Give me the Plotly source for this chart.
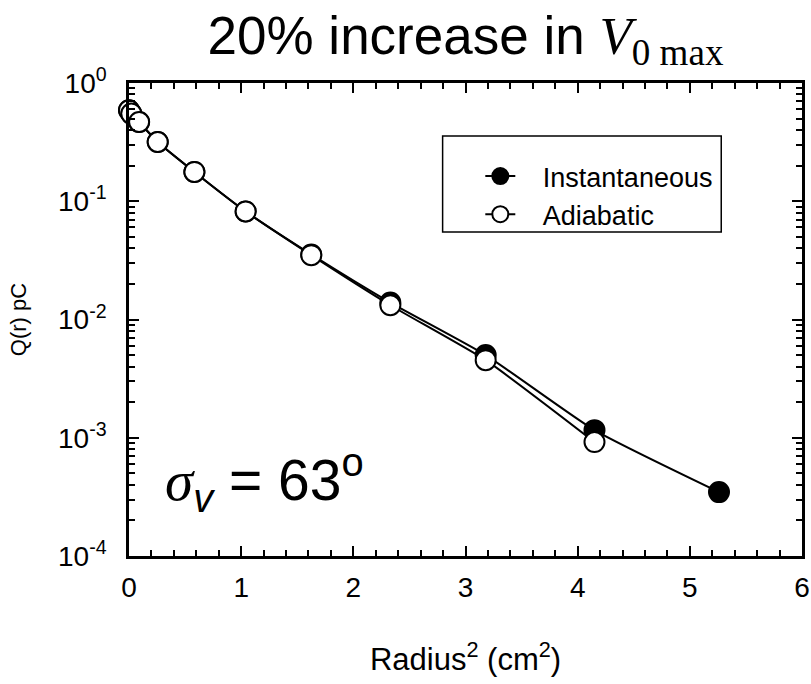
import plotly.graph_objects as go

# Data (x = radius^2 in cm^2, y = Q(r) in pC)
x_inst = [0.0, 0.02, 0.09, 0.256, 0.583, 1.04, 1.625, 2.33, 3.18, 4.15, 5.26]
y_inst = [0.588, 0.551, 0.468, 0.317, 0.177, 0.082, 0.0355, 0.0139, 0.0050, 0.00116, 0.000347]

x_adia = [0.0, 0.02, 0.09, 0.256, 0.583, 1.04, 1.625, 2.33, 3.18, 4.15]
y_adia = [0.588, 0.551, 0.468, 0.317, 0.177, 0.082, 0.035, 0.0132, 0.00453, 0.00092]

x_ticks = [0, 1, 2, 3, 4, 5, 6]
y_tickvals = [1e-4, 1e-3, 1e-2, 1e-1, 1e0]
y_ticktext = ["10<sup>-4</sup>", "10<sup>-3</sup>", "10<sup>-2</sup>", "10<sup>-1</sup>", "10<sup>0</sup>"]
y_minor = [m * 10 ** e for e in range(-4, 0) for m in range(2, 10)]

FONT = "Liberation Sans, Arial, sans-serif"
NB = "\u00a0"

fig = go.Figure()
fig.add_trace(go.Scatter(
    x=x_inst, y=y_inst, name=NB * 3 + "Instantaneous", mode="lines+markers",
    line=dict(color="black", width=2, shape="spline", smoothing=0.5),
    marker=dict(symbol="circle", size=20, color="black", line=dict(color="black", width=2)),
    cliponaxis=False,
))
fig.add_trace(go.Scatter(
    x=x_adia, y=y_adia, name=NB * 3 + "Adiabatic", mode="lines+markers",
    line=dict(color="black", width=2, shape="spline", smoothing=0.5),
    marker=dict(symbol="circle", size=20, color="white", line=dict(color="black", width=2)),
    cliponaxis=False,
))

fig.update_layout(
    width=811, height=684,
    margin=dict(l=129, r=9, t=83, b=128),
    paper_bgcolor="white", plot_bgcolor="white",
    font=dict(family=FONT, color="black"),
    title=dict(
        text='20% increase in <span style="font-family:Liberation Serif"><i>V</i><sub>0 max</sub></span>',
        x=0.5, xref="paper", xanchor="center",
        y=0.948, yref="container", yanchor="middle",
        font=dict(size=53, family=FONT, color="black"),
    ),
    showlegend=True,
    legend=dict(
        x=0.522, y=0.854, xanchor="left", yanchor="top",
        borderwidth=0, bgcolor="rgba(0,0,0,0)",
        font=dict(size=27, family=FONT),
        tracegroupgap=0,
    ),
    shapes=[dict(
        type="rect", xref="paper", yref="paper",
        x0=0.466, x1=0.880, y0=0.685, y1=0.888,
        line=dict(color="black", width=1.5), fillcolor="rgba(0,0,0,0)",
    )],
    annotations=[dict(
        text='<span style="font-family:Liberation Serif"><i>σ</i></span><sub><i>v</i></sub> = 63<sup>o</sup>',
        xref="paper", yref="paper", x=0.05, y=0.16,
        xanchor="left", yanchor="middle", showarrow=False,
        font=dict(size=57, family=FONT, color="black"),
    )],
)

fig.update_xaxes(
    range=[0, 6], tickvals=x_ticks, ticks="inside", ticklen=10, tickwidth=2,
    showline=True, linecolor="black", linewidth=2.5, mirror="allticks",
    showgrid=False, zeroline=False, automargin=False,
    tickfont=dict(size=28, family=FONT), ticklabelstandoff=5,
    minor=dict(ticks="inside", ticklen=6, tickwidth=1.5, dtick=0.2, showgrid=False, tickcolor="black"),
    tickcolor="black",
    title=dict(text="Radius<sup>2</sup> (cm<sup>2</sup>)", font=dict(size=31, family=FONT), standoff=46),
)
fig.update_yaxes(
    type="log", range=[-4, 0], tickvals=y_tickvals, ticktext=y_ticktext,
    ticks="inside", ticklen=10, tickwidth=2, tickcolor="black",
    showline=True, linecolor="black", linewidth=2.5, mirror="allticks",
    showgrid=False, zeroline=False, automargin=False,
    tickfont=dict(size=28, family=FONT), ticklabelstandoff=14,
    minor=dict(ticks="inside", ticklen=6, tickwidth=1.5, tickvals=y_minor, showgrid=False, tickcolor="black"),
    title=dict(text="Q(r) pC", font=dict(size=22, family=FONT), standoff=26),
)

fig.write_html("out.html")
